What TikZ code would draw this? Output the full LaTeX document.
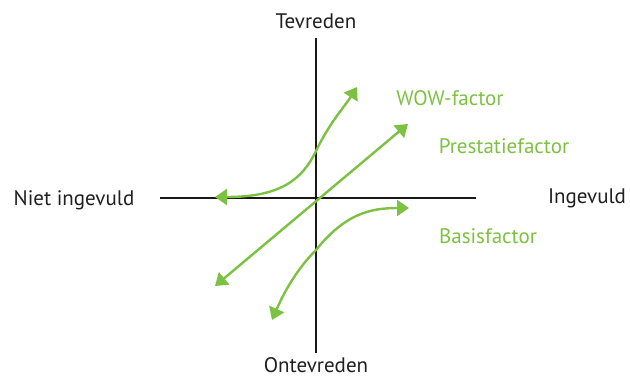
\documentclass[tikz,border=0pt]{standalone}
\usepackage{fontspec}
\setmainfont{PT Sans}
\usetikzlibrary{arrows.meta}
\definecolor{kgreen}{HTML}{7DC142}
\begin{document}
\begin{tikzpicture}[x=1pt,y=-1pt,
  axis/.style={line width=2pt,black!90},
  tip/.tip={Triangle[length=12pt,width=16pt]},
  curve/.style={line width=2.4pt,kgreen,tip-tip},
  lbl/.style={font=\fontsize{21}{24}\selectfont,text=black!88,anchor=base,inner sep=0pt},
  glbl/.style={font=\fontsize{21}{24}\selectfont,text=kgreen,anchor=base,inner sep=0pt}]
\useasboundingbox (0,0) rectangle (630,378);
\coordinate (vtop) at (316,38);
\coordinate (vbot) at (316,353);
\coordinate (hl) at (160,198);
\coordinate (hr) at (476,198);
\draw[axis] (vtop) -- (vbot);
\draw[axis] (hl) -- (hr);
\node[lbl] (tev) at (316,28) {Tevreden};
\node[lbl] (ont) at (316,372) {Ontevreden};
\node[lbl] (niet) at (74,205) {Niet ingevuld};
\node[lbl] (ing) at (587,203.5) {Ingevuld};
\node[glbl] (wow) at (450,105) {WOW-factor};
\node[glbl] (pres) at (504,153) {Prestatiefactor};
\node[glbl] (bas) at (488,243) {Basisfactor};
% WOW curve
\coordinate (w1) at (215,197);
\coordinate (w2) at (316,151);
\coordinate (w3) at (357,87);
\draw[curve] (w1) .. controls (280,197) and (302,180) .. (w2) .. controls (330,122) and (345,106) .. (w3);
% Prestatie line
\coordinate (p1) at (215,286);
\coordinate (p2) at (408,124);
\draw[curve] (p1) -- (p2);
% Basis curve
\coordinate (b1) at (272,320);
\coordinate (b2) at (316,250);
\coordinate (b3) at (409,208);
\draw[curve] (b1) .. controls (285,290) and (298,268) .. (b2) .. controls (345,214) and (370,208) .. (b3);
\end{tikzpicture}
\end{document}
